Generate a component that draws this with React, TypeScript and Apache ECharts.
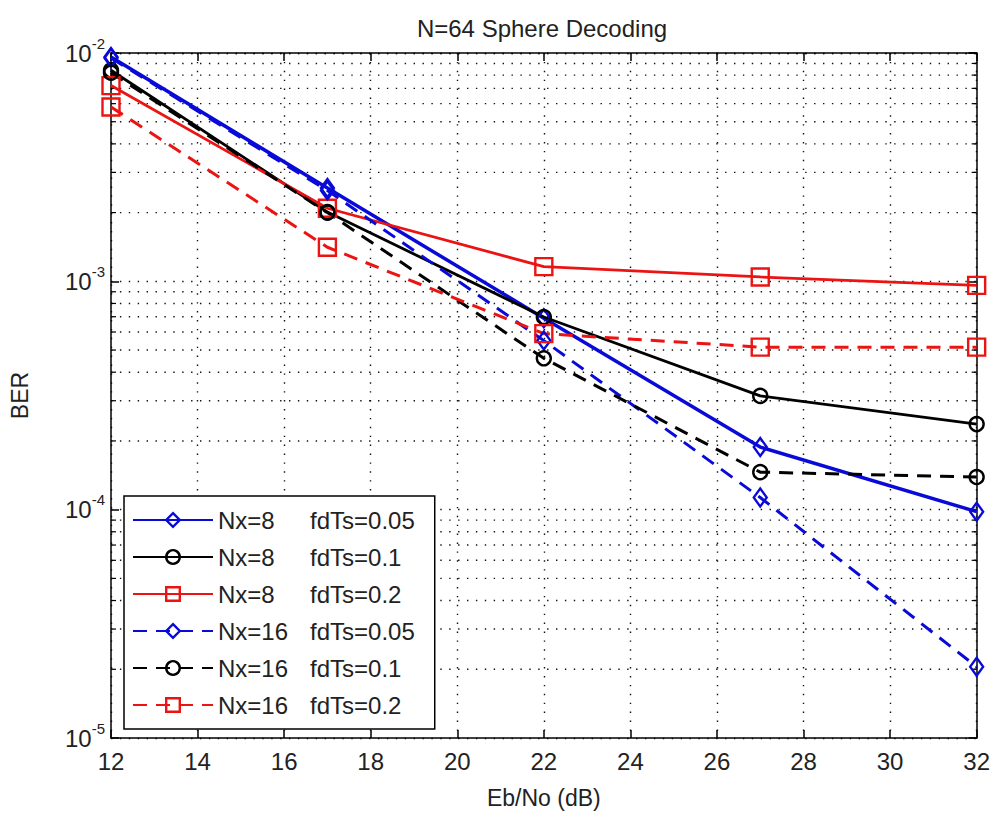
import React, { useEffect, useRef } from "react";
import * as echarts from "echarts";

// Eb/No sweep (dB)
const ebNo = [12, 17, 22, 27, 32];

// BER curves, one array per (Nx, fdTs) configuration
const nx8Fd005 = [9.6e-3, 2.56e-3, 6.9e-4, 1.88e-4, 9.8e-5];
const nx8Fd01 = [8.4e-3, 2.01e-3, 6.98e-4, 3.15e-4, 2.37e-4];
const nx8Fd02 = [7.2e-3, 2.09e-3, 1.16e-3, 1.045e-3, 9.6e-4];
const nx16Fd005 = [9.5e-3, 2.5e-3, 5.5e-4, 1.13e-4, 2.05e-5];
const nx16Fd01 = [8.2e-3, 2.0e-3, 4.6e-4, 1.46e-4, 1.39e-4];
const nx16Fd02 = [5.8e-3, 1.41e-3, 5.9e-4, 5.15e-4, 5.15e-4];

const seriesNames = [
  "Nx=8 fdTs=0.05",
  "Nx=8 fdTs=0.1",
  "Nx=8 fdTs=0.2",
  "Nx=16 fdTs=0.05",
  "Nx=16 fdTs=0.1",
  "Nx=16 fdTs=0.2",
];

// Minor log grid values (2..9 × each decade)
const minorDecades = [-5, -4, -3];
const minorMultipliers = [2, 3, 4, 5, 6, 7, 8, 9];

const BLUE = "#0a0ad8";
const BLACK = "#000000";
const RED = "#ec1313";
const FONT = "'Liberation Sans', Arial, sans-serif";
const TXT = "#222";

export default function App() {
  const ref = useRef<HTMLDivElement>(null);

  useEffect(() => {
    if (!ref.current) return;
    const chart = echarts.init(ref.current, undefined, { renderer: "svg" });

    const minorValues: number[][] = [];
    minorDecades.forEach((d) =>
      minorMultipliers.forEach((m) => minorValues.push([12, m * Math.pow(10, d)]))
    );

    const mk = (
      name: string,
      values: number[],
      color: string,
      dashed: boolean,
      symbol: string,
      symbolSize: number | number[],
      width: number
    ) => ({
      name,
      type: "line",
      data: ebNo.map((x, i) => [x, values[i]]),
      symbol,
      symbolSize,
      showSymbol: true,
      z: 5,
      lineStyle: { color, width, type: dashed ? [14, 9] : "solid" },
      itemStyle: { color: "rgba(255,255,255,0)", borderColor: color, borderWidth: 2.4 },
      emphasis: { disabled: true },
    });

    const dotted = { color: "#111", width: 1.4, type: [1.4, 7.5] };

    chart.setOption({
      animation: false,
      backgroundColor: "#ffffff",
      textStyle: { fontFamily: FONT },
      title: {
        text: "N=64 Sphere Decoding",
        left: 537,
        top: 11,
        textAlign: "center",
        textStyle: { fontFamily: FONT, fontSize: 24, fontWeight: "normal", color: TXT },
      },
      grid: { left: 106, right: 16, top: 53, bottom: 78 },
      xAxis: [
        {
          type: "value",
          min: 12,
          max: 32,
          interval: 2,
          name: "Eb/No (dB)",
          nameLocation: "middle",
          nameGap: 48,
          nameTextStyle: { fontFamily: FONT, fontSize: 23, color: TXT },
          axisLine: { lineStyle: { color: "#000", width: 1.5 } },
          axisTick: { inside: true, length: 8, lineStyle: { color: "#000", width: 1.5 } },
          axisLabel: { fontFamily: FONT, fontSize: 24, color: TXT, margin: 11 },
          splitLine: { show: true, lineStyle: dotted },
        },
        {
          type: "value",
          position: "top",
          min: 12,
          max: 32,
          interval: 2,
          axisLine: { lineStyle: { color: "#000", width: 1.5 } },
          axisTick: { inside: true, length: 8, lineStyle: { color: "#000", width: 1.5 } },
          axisLabel: { show: false },
          splitLine: { show: false },
        },
      ],
      yAxis: [
        {
          type: "log",
          logBase: 10,
          min: 1e-5,
          max: 1e-2,
          name: "BER",
          nameLocation: "middle",
          nameGap: 80,
          nameRotate: 90,
          nameTextStyle: { fontFamily: FONT, fontSize: 23, color: TXT },
          axisLine: { lineStyle: { color: "#000", width: 1.5 } },
          axisTick: { inside: true, length: 8, lineStyle: { color: "#000", width: 1.5 } },
          axisLabel: {
            margin: 6,
            formatter: (v: number) => "{b|10}{sup|" + Math.round(Math.log10(v)) + "}",
            rich: {
              b: { fontFamily: FONT, fontSize: 24, color: TXT },
              sup: { fontFamily: FONT, fontSize: 15, color: TXT, padding: [0, 0, 20, 0] },
            },
          },
          splitLine: { show: true, lineStyle: dotted },
        },
        {
          type: "log",
          logBase: 10,
          min: 1e-5,
          max: 1e-2,
          position: "right",
          axisLine: { lineStyle: { color: "#000", width: 1.5 } },
          axisTick: { inside: true, length: 8, lineStyle: { color: "#000", width: 1.5 } },
          axisLabel: { show: false },
          splitLine: { show: false },
        },
      ],
      legend: {
        data: seriesNames,
        orient: "vertical",
        left: 124,
        top: 496,
        backgroundColor: "#ffffff",
        borderColor: "#000",
        borderWidth: 1.5,
        borderRadius: 0,
        padding: [12, 20, 12, 8],
        itemWidth: 80,
        itemHeight: 17,
        itemGap: 13,
        itemStyle: { borderWidth: 2.4 },
        selectedMode: false,
        formatter: (name: string) => {
          const [a, b] = name.split(" ");
          return "{a|" + a + "}{b|" + b + "}";
        },
        textStyle: {
          fontFamily: FONT,
          fontSize: 24,
          color: TXT,
          lineHeight: 24,
          rich: {
            a: { fontFamily: FONT, fontSize: 24, color: TXT, width: 92 },
            b: { fontFamily: FONT, fontSize: 24, color: TXT },
          },
        },
        z: 10,
      },
      series: [
        {
          name: "minor-grid",
          type: "custom",
          silent: true,
          z: 1,
          encode: { x: 0, y: 1 },
          data: minorValues,
          renderItem: (_params: any, api: any) => {
            const v = api.value(1);
            const p1 = api.coord([12, v]);
            const p2 = api.coord([32, v]);
            const tickStyle = { stroke: "#000", lineWidth: 1.2 };
            return {
              type: "group",
              children: [
                {
                  type: "line",
                  shape: { x1: p1[0], y1: p1[1], x2: p2[0], y2: p2[1] },
                  style: { stroke: "#111", lineWidth: 1.4, lineDash: [1.4, 7.5] },
                },
                {
                  type: "line",
                  shape: { x1: p1[0], y1: p1[1], x2: p1[0] + 5, y2: p1[1] },
                  style: tickStyle,
                },
                {
                  type: "line",
                  shape: { x1: p2[0] - 5, y1: p2[1], x2: p2[0], y2: p2[1] },
                  style: tickStyle,
                },
              ],
            };
          },
        },
        mk(seriesNames[0], nx8Fd005, BLUE, false, "diamond", [13, 18], 3.5),
        mk(seriesNames[1], nx8Fd01, BLACK, false, "circle", 14, 2.8),
        mk(seriesNames[2], nx8Fd02, RED, false, "rect", 17, 2.8),
        mk(seriesNames[3], nx16Fd005, BLUE, true, "diamond", [13, 18], 3),
        mk(seriesNames[4], nx16Fd01, BLACK, true, "circle", 14, 3),
        mk(seriesNames[5], nx16Fd02, RED, true, "rect", 17, 3),
      ],
    });

    return () => chart.dispose();
  }, []);

  return (
    <div
      ref={ref}
      style={{ position: "absolute", left: 0, top: 0, width: 993, height: 816, background: "#fff" }}
    />
  );
}
